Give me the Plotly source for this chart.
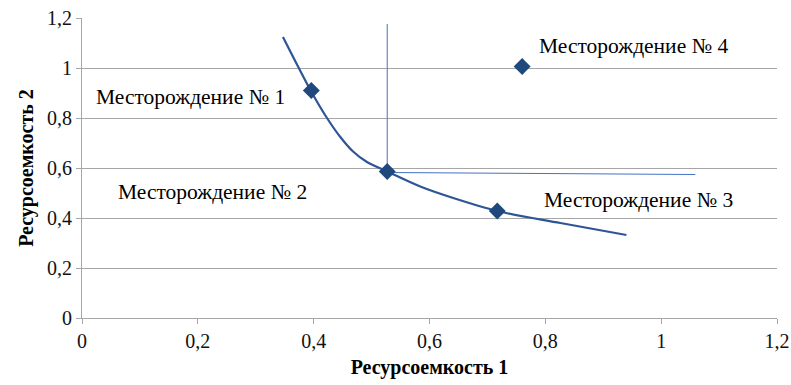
import plotly.graph_objects as go

# fields (resource intensity 1, resource intensity 2)
field_names = ["Месторождение № 1", "Месторождение № 2", "Месторождение № 3", "Месторождение № 4"]
field_x = [0.396, 0.527, 0.717, 0.760]
field_y = [0.910, 0.586, 0.428, 1.006]

# fitted curve
curve_x = [0.347, 0.396, 0.423, 0.446, 0.468, 0.492, 0.527, 0.584, 0.641, 0.717, 0.826, 0.940]
curve_y = [1.124, 0.905, 0.800, 0.724, 0.666, 0.624, 0.586, 0.526, 0.480, 0.428, 0.380, 0.332]

# guide lines through field 2
vline_x = [0.527, 0.527]
vline_y = [0.586, 1.176]
hline_x = [0.527, 1.059]
hline_y = [0.582, 0.574]

# label anchors
label_x = [0.188, 0.226, 0.960, 0.953]
label_y = [0.884, 0.504, 0.472, 1.088]

SERIF = "Liberation Serif, Times New Roman, serif"
GRID = "#A6A6A6"
MARKER = "#1F497D"
CURVE = "#2E5597"
GUIDE = "#4472C4"

fig = go.Figure()
fig.add_trace(go.Scatter(x=vline_x, y=vline_y, mode="lines",
                         line=dict(color=GUIDE, width=1), hoverinfo="skip"))
fig.add_trace(go.Scatter(x=hline_x, y=hline_y, mode="lines",
                         line=dict(color=GUIDE, width=1), hoverinfo="skip"))
fig.add_trace(go.Scatter(x=curve_x, y=curve_y, mode="lines", line_shape="spline",
                         line=dict(color=CURVE, width=2.2, smoothing=0.9), hoverinfo="skip"))
fig.add_trace(go.Scatter(x=field_x, y=field_y, mode="markers", text=field_names,
                         marker=dict(symbol="diamond", size=13, color=MARKER)))

for name, lx, ly in zip(field_names, label_x, label_y):
    fig.add_annotation(x=lx, y=ly, text=name, showarrow=False,
                       font=dict(family=SERIF, size=21.5, color="#000000"))

axis_common = dict(
    range=[0, 1.2], dtick=0.2, showline=True, linecolor=GRID, linewidth=1,
    ticks="outside", ticklen=5, tickcolor=GRID, zeroline=False, automargin=False,
    ticklabeloverflow="allow",
    tickfont=dict(family=SERIF, size=20, color="#111111"),
)

fig.update_layout(
    width=791, height=385,
    margin=dict(l=82, r=14, t=18, b=67),
    plot_bgcolor="white", paper_bgcolor="white",
    showlegend=False, separators=", ",
    xaxis=dict(**axis_common, showgrid=False,
               title=dict(text="<b>Ресурсоемкость 1</b>", standoff=8,
                          font=dict(family=SERIF, size=20, color="#000000"))),
    yaxis=dict(**axis_common, showgrid=True, gridcolor=GRID, gridwidth=1,
               title=dict(text="<b>Ресурсоемкость 2</b>", standoff=8,
                          font=dict(family=SERIF, size=20, color="#000000"))),
)

# drop the default page margin so the figure fills the window exactly
fig.write_html("out.html", config={"displayModeBar": False}, post_script=(
    "document.body.style.margin='0';document.body.style.overflow='hidden';"
))
